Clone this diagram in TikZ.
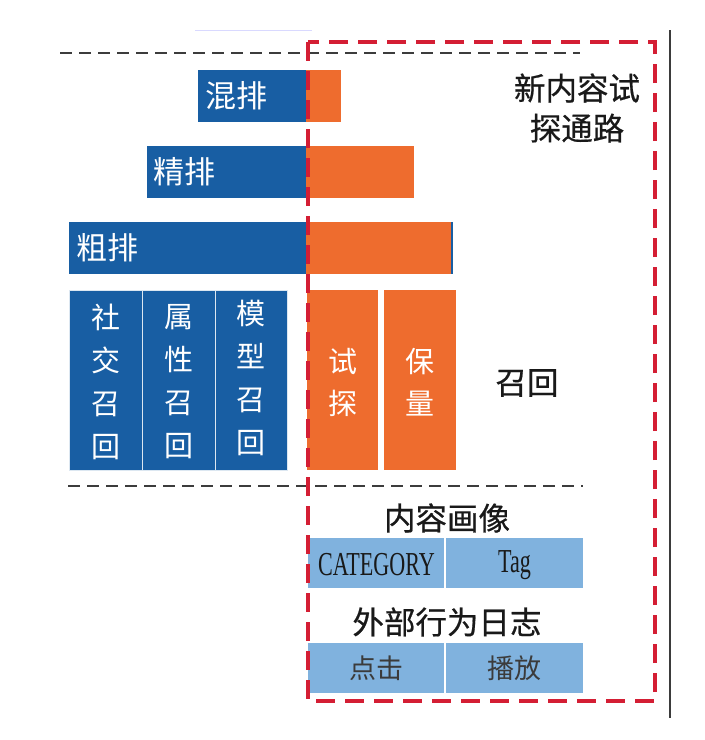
\documentclass[tikz,border=0pt]{standalone}
\usepackage{fontspec}
\newfontfamily\cjk{Noto Sans CJK SC}
\newfontfamily\cjkb[FakeBold=0.6]{Noto Sans CJK SC}
\newfontfamily\condserif[FakeStretch=0.66]{Liberation Serif}
\definecolor{dblue}{RGB}{24,94,163}
\definecolor{orng}{RGB}{238,108,46}
\definecolor{lblue}{RGB}{128,178,222}
\definecolor{rdash}{RGB}{212,30,52}
\definecolor{ink}{RGB}{25,25,25}
\begin{document}
\begin{tikzpicture}[x=1pt,y=-1pt,
  box/.style={rectangle,inner sep=0pt,outer sep=0pt,anchor=north west},
  bluebar/.style={box,fill=dblue},
  orangebar/.style={box,fill=orng},
  lightbox/.style={box,fill=lblue},
  colbox/.style={box,fill=dblue,draw=white!85!dblue,line width=1pt},
  ocolbox/.style={box,fill=orng},
  wlbl/.style={text=white,font=\cjk\fontsize{31}{36}\selectfont,inner sep=0pt},
  vlbl/.style={text=white,align=center,font=\cjk\fontsize{29}{43}\selectfont,inner sep=0pt},
  blbl/.style={text=ink,align=center,font=\cjkb\fontsize{31.5}{40}\selectfont,inner sep=0pt},
  slbl/.style={text=ink!85,font=\cjk\fontsize{27}{30}\selectfont,inner sep=0pt},
  elbl/.style={text=ink,font=\condserif\fontsize{33.5}{36}\selectfont,inner sep=0pt},
  blackdash/.style={draw=ink!85,line width=2.2pt,dash pattern=on 12pt off 7pt},
  reddash/.style={draw=rdash,line width=3.4pt,dash pattern=on 19pt off 10pt}]
\useasboundingbox (0,0) rectangle (705,740);
\fill[white] (0,0) rectangle (705,740);

% faint top line
\coordinate (ft1) at (195,30);
\coordinate (ft2) at (312,30);
\draw[blue!15,line width=1pt] (ft1) -- (ft2);

% right black vertical line
\coordinate (vr1) at (670,30);
\coordinate (vr2) at (670,718);
\draw[ink!85,line width=2pt] (vr1) -- (vr2);

% top dashed line
\coordinate (td1) at (60,53);
\coordinate (td2) at (580,53);
\draw[blackdash] (td1) -- (td2);

% ranking bars
\node[bluebar,minimum width=108pt,minimum height=52pt] (mixb) at (198,70) {};
\node[orangebar,minimum width=35pt,minimum height=52pt] (mixo) at (306,70) {};
\node[wlbl,anchor=west] at ([xshift=7pt]mixb.west) {混排};

\node[bluebar,minimum width=159pt,minimum height=52pt] (fineb) at (147,146) {};
\node[orangebar,minimum width=108pt,minimum height=52pt] (fineo) at (306,146) {};
\node[wlbl,anchor=west] at ([xshift=6pt]fineb.west) {精排};

\node[bluebar,minimum width=237pt,minimum height=52pt] (coarseb) at (69,222) {};
\node[orangebar,minimum width=146pt,minimum height=52pt] (coarseo) at (306,222) {};
\draw[dblue,line width=2pt] (coarseo.north east) -- (coarseo.south east);
\node[wlbl,anchor=west] at ([xshift=7pt]coarseb.west) {粗排};

% recall columns
\node[colbox,minimum width=73pt,minimum height=180pt] (c1) at (69,290) {};
\node[colbox,minimum width=73pt,minimum height=180pt] (c2) at (142,290) {};
\node[colbox,minimum width=72pt,minimum height=180pt] (c3) at (215,290) {};
\node[vlbl] at ([yshift=-2pt]c1.center) {社\\交\\召\\回};
\node[vlbl] at ([yshift=-2pt]c2.center) {属\\性\\召\\回};
\node[vlbl] at ([yshift=2pt]c3.center) {模\\型\\召\\回};

\node[ocolbox,minimum width=71pt,minimum height=180pt] (o1) at (307,290) {};
\node[ocolbox,minimum width=72pt,minimum height=180pt] (o2) at (384,290) {};
\node[vlbl,font=\cjk\fontsize{29}{42}\selectfont] at ([yshift=-2pt]o1.center) {试\\探};
\node[vlbl,font=\cjk\fontsize{29}{42}\selectfont] at ([yshift=-2pt]o2.center) {保\\量};

\node[blbl] (recall) at (527,383) {召回};

% title in red box
\node[blbl] (title) at (577,108) {新内容试\\探通路};

% middle dashed line
\coordinate (md1) at (68,486);
\coordinate (md2) at (583,486);
\draw[blackdash] (md1) -- (md2);

% content profile
\node[blbl] (prof) at (447,518) {内容画像};
\node[lightbox,minimum width=137pt,minimum height=50pt] (cat) at (308,538) {};
\node[lightbox,minimum width=137pt,minimum height=50pt] (tag) at (446,538) {};
\draw[white,line width=1.5pt] (cat.north east) -- (cat.south east);
\node[elbl] at ([yshift=-2pt]cat.center) {CATEGORY};
\node[elbl] at ([yshift=-2pt]tag.center) {Tag};

\node[blbl] (log) at (447,622) {外部行为日志};
\node[lightbox,minimum width=137pt,minimum height=50pt] (click) at (308,643) {};
\node[lightbox,minimum width=137pt,minimum height=50pt] (play) at (446,643) {};
\draw[white,line width=1.5pt] (click.north east) -- (click.south east);
\node[slbl] at (click.center) {点击};
\node[slbl] at (play.center) {播放};

% red dashed region
\coordinate (r1) at (308,42);
\coordinate (r2) at (655,701);
\draw[reddash] (r1) rectangle (r2);
\end{tikzpicture}
\end{document}
